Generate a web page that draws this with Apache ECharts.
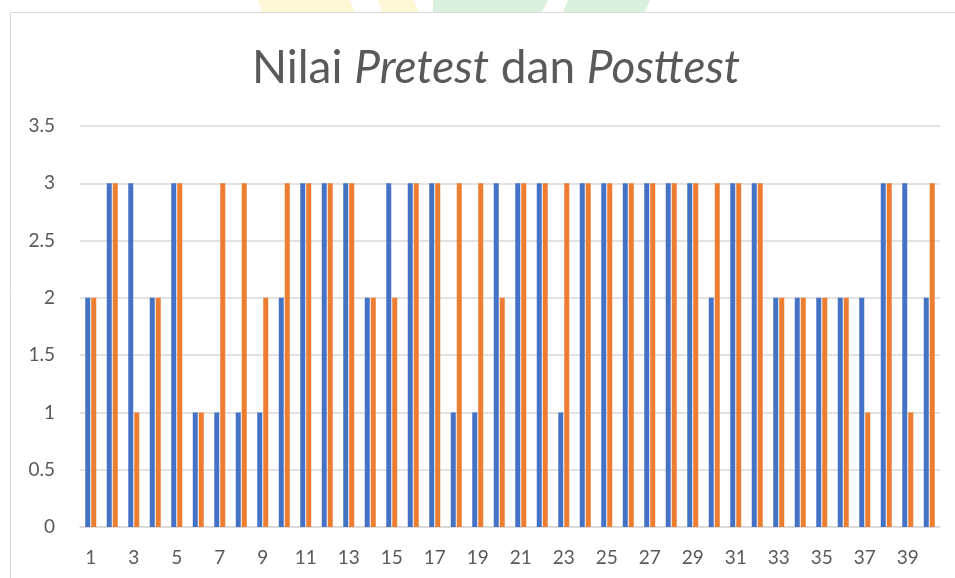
<!DOCTYPE html>
<html>
<head>
<meta charset="utf-8">
<script src="https://cdn.jsdelivr.net/npm/echarts@6/dist/echarts.min.js"></script>
<style>
  html, body { margin: 0; padding: 0; background: #fff; }
  #chart { width: 955px; height: 578px; }
</style>
</head>
<body>
<div id="chart"></div>
<script>
// respondents 1..40
const categories = Array.from({ length: 40 }, (_, i) => String(i + 1))
const pretest = [2, 3, 3, 2, 3, 1, 1, 1, 1, 2,
  3, 3, 3, 2, 3, 3, 3, 1, 1, 3,
  3, 3, 1, 3, 3, 3, 3, 3, 3, 2,
  3, 3, 2, 2, 2, 2, 2, 3, 3, 2]
const posttest = [2, 3, 1, 2, 3, 1, 3, 3, 2, 3,
  3, 3, 3, 2, 2, 3, 3, 3, 3, 2,
  3, 3, 3, 3, 3, 3, 3, 3, 3, 3,
  3, 3, 2, 2, 2, 2, 1, 3, 1, 3]

const textColor = '#595959'
const font = 'Lato'

const chart = echarts.init(document.getElementById('chart'), null, { renderer: 'canvas' })

chart.setOption({
  animation: false,
  backgroundColor: '#fff',
  title: {
    text: 'Nilai {i|Pretest} dan {i|Posttest}',
    left: 491,
    top: 40,
    textAlign: 'center',
    textStyle: {
      fontFamily: font,
      fontSize: 46,
      fontWeight: 'normal',
      color: textColor,
      rich: {
        i: { fontFamily: font, fontSize: 46, fontStyle: 'italic', color: textColor }
      }
    }
  },
  graphic: [
    // faint logo watermark peeking above the frame
    { type: 'polygon', silent: true, shape: { points: [[258, 0], [350, 0], [355, 12], [262, 12]] }, style: { fill: '#fff8d6' } },
    { type: 'polygon', silent: true, shape: { points: [[378, 0], [414, 0], [419, 12], [382, 12]] }, style: { fill: '#fff8d6' } },
    { type: 'polygon', silent: true, shape: { points: [[433, 0], [548, 0], [542, 12], [433, 12]] }, style: { fill: '#d9f0dc' } },
    { type: 'polygon', silent: true, shape: { points: [[568, 0], [650, 0], [645, 12], [563, 12]] }, style: { fill: '#d9f0dc' } },
    { type: 'rect', silent: true, shape: { x: 10.5, y: 12.5, width: 1000, height: 700 }, style: { fill: 'none', stroke: '#d9d9d9', lineWidth: 1 } }
  ],
  grid: { left: 80, right: 15, top: 126, bottom: 51 },
  xAxis: {
    type: 'category',
    data: categories,
    axisLine: { show: true, lineStyle: { color: '#d9d9d9', width: 1.5 } },
    axisTick: { show: false },
    axisLabel: {
      interval: 1,
      margin: 21,
      fontFamily: font,
      fontSize: 19,
      color: textColor
    }
  },
  yAxis: {
    type: 'value',
    min: 0,
    max: 3.5,
    interval: 0.5,
    axisLine: { show: false },
    axisTick: { show: false },
    splitLine: { lineStyle: { color: '#d9d9d9', width: 1.5 } },
    axisLabel: {
      margin: 25,
      fontFamily: font,
      fontSize: 19,
      color: textColor
    }
  },
  series: [
    {
      name: 'Pretest',
      type: 'bar',
      data: pretest,
      barWidth: 5,
      barGap: '20%',
      itemStyle: { color: '#4472c4' }
    },
    {
      name: 'Posttest',
      type: 'bar',
      data: posttest,
      barWidth: 5,
      barGap: '20%',
      itemStyle: { color: '#ed7d31' }
    }
  ]
})
</script>
</body>
</html>
